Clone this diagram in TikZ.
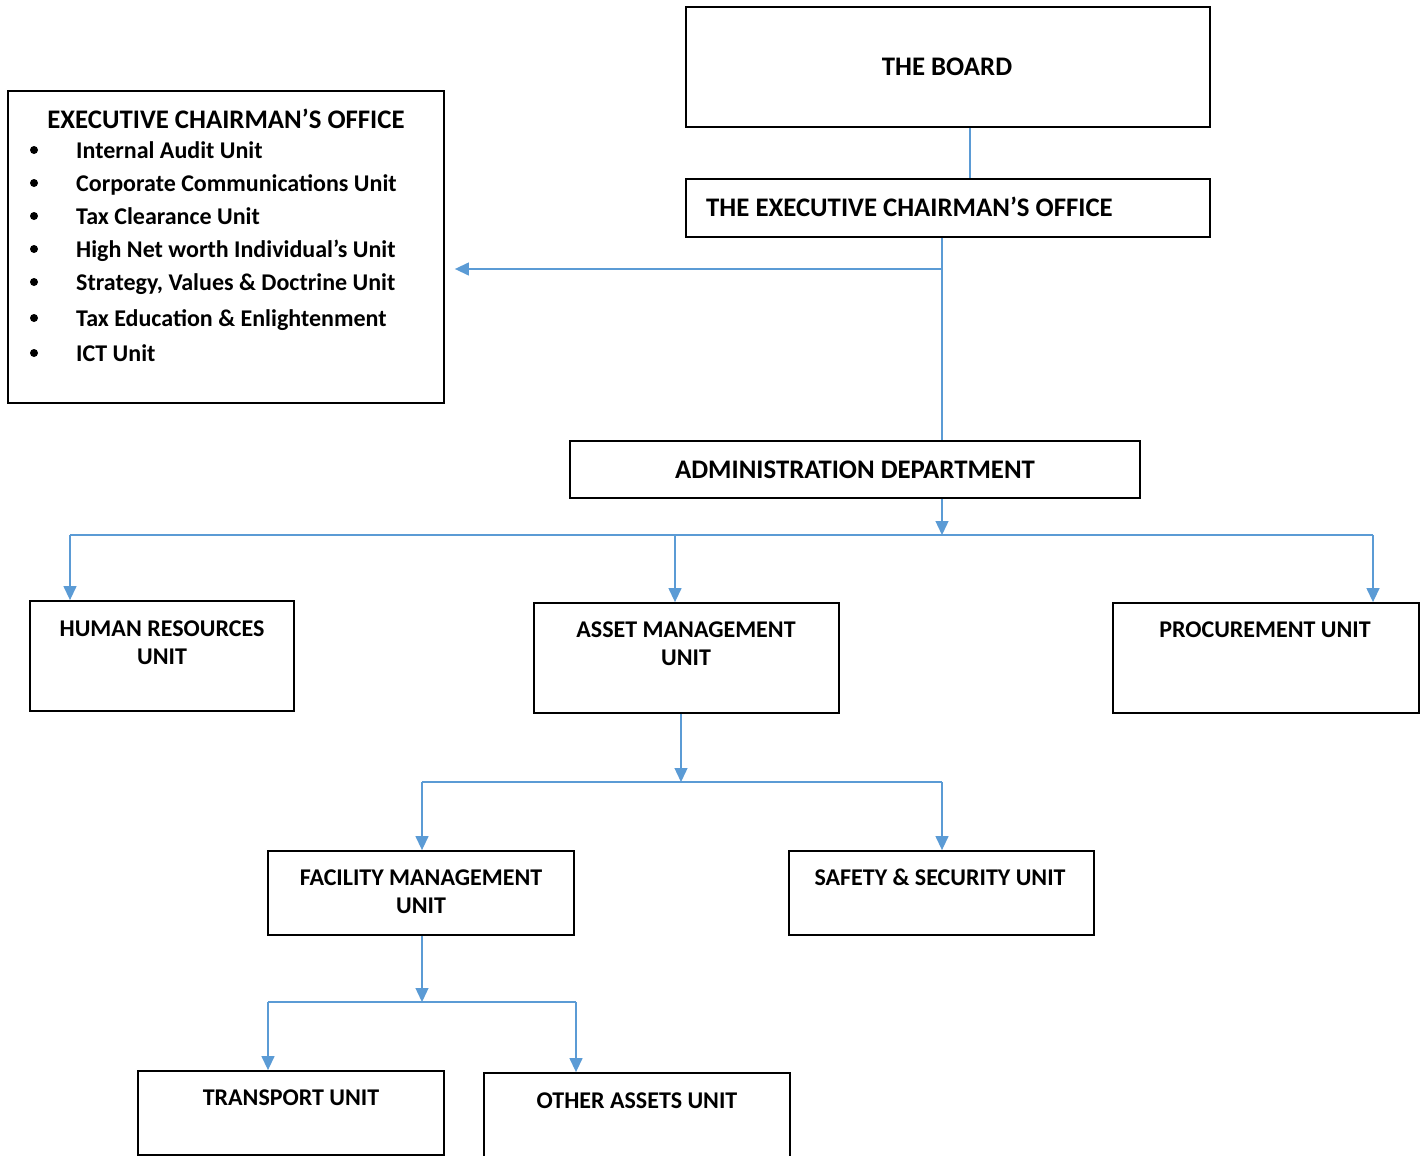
\documentclass[tikz,border=0pt]{standalone}
\usepackage{fontspec}
\setmainfont{Carlito}
\usetikzlibrary{arrows.meta,fit}
\definecolor{linkblue}{HTML}{5B9BD5}
\begin{document}
\begin{tikzpicture}[x=1pt,y=-1pt,
  box/.style={draw, line width=1.8pt, inner sep=0pt},
  hd/.style={font=\bfseries\fontsize{26.8}{28.5}\selectfont, align=center, inner sep=0pt, anchor=base},
  unit/.style={font=\bfseries\fontsize{24}{28.5}\selectfont, align=center, inner sep=0pt, anchor=base},
  item/.style={font=\bfseries\fontsize{24}{29}\selectfont, inner sep=0pt, anchor=base west},
  dot/.style={circle, fill=black, inner sep=0pt, minimum size=8pt},
  link/.style={draw=linkblue, line width=1.3pt},
  tip/.style={link, -{Triangle[width=13pt,length=14pt]}}]
\useasboundingbox (0,0) rectangle (1427,1156);

% boxes
\node[box, fit={(686,7)(1210,127)}] (board) {};
\node[box, fit={(686,179)(1210,237)}] (exec) {};
\node[box, fit={(8,91)(444,403)}] (office) {};
\node[box, fit={(570,441)(1140,498)}] (admin) {};
\node[box, fit={(30,601)(294,711)}] (hr) {};
\node[box, fit={(534,603)(839,713)}] (asset) {};
\node[box, fit={(1113,603)(1419,713)}] (proc) {};
\node[box, fit={(268,851)(574,935)}] (facility) {};
\node[box, fit={(789,851)(1094,935)}] (safety) {};
\node[box, fit={(138,1071)(444,1155)}] (transport) {};
\node[box, fit={(484,1073)(790,1170)}] (other) {};

% texts
\node[hd] (tboard) at (947,76) {THE BOARD};
\node[hd, anchor=base west] (texec) at (706,216) {THE EXECUTIVE CHAIRMAN’S OFFICE};
\node[hd] (toffice) at (226,128) {EXECUTIVE CHAIRMAN’S OFFICE};
\node[hd] (tadmin) at (855,478) {ADMINISTRATION DEPARTMENT};
\node[unit, anchor=north] (thr) at (162,620.3) {HUMAN RESOURCES\\UNIT};
\node[unit, anchor=north] (tasset) at (686,621.3) {ASSET MANAGEMENT\\UNIT};
\node[unit] (tproc) at (1265,637) {PROCUREMENT UNIT};
\node[unit, anchor=north] (tfacility) at (421,869.3) {FACILITY MANAGEMENT\\UNIT};
\node[unit] (tsafety) at (940,885) {SAFETY \& SECURITY UNIT};
\node[unit] (ttransport) at (291,1105) {TRANSPORT UNIT};
\node[unit] (tother) at (637,1108) {OTHER ASSETS UNIT};

% bulleted list of units
\foreach \y/\t [count=\i] in {158/Internal Audit Unit,
    191/Corporate Communications Unit,
    224/Tax Clearance Unit,
    257/High Net worth Individual’s Unit,
    290/{Strategy, Values \& Doctrine Unit},
    326/Tax Education \& Enlightenment,
    361/ICT Unit} {
  \node[dot] (b\i) at (34,\y-8) {};
  \node[item] (u\i) at (76,\y) {\t};
}

% junction points
\coordinate (spineA) at (970,150);
\coordinate (spineB) at (942,269);
\coordinate (bus1) at (942,535);
\coordinate (bus1l) at (70,535);
\coordinate (bus1m) at (675,535);
\coordinate (bus1r) at (1373,535);
\coordinate (asdrop) at (681,782);
\coordinate (bus2l) at (422,782);
\coordinate (bus2r) at (942,782);
\coordinate (fadrop) at (422,1002);
\coordinate (bus3l) at (268,1002);
\coordinate (bus3r) at (576,1002);

% connectors
\draw[link] (board.south -| spineA) -- (exec.north -| spineA);
\draw[link] (exec.south -| spineB) -- (admin.north -| spineB);
\draw[tip, shorten >=10pt] (spineB) -- (office.east |- spineB);

\draw[tip] (admin.south -| bus1) -- (bus1);
\draw[link] (bus1l) -- (bus1r);
\draw[tip] (bus1l) -- (hr.north -| bus1l);
\draw[tip] (bus1m) -- (asset.north -| bus1m);
\draw[tip] (bus1r) -- (proc.north -| bus1r);

\draw[tip] (asset.south -| asdrop) -- (asdrop);
\draw[link] (bus2l) -- (bus2r);
\draw[tip] (bus2l) -- (facility.north -| bus2l);
\draw[tip] (bus2r) -- (safety.north -| bus2r);

\draw[tip] (facility.south -| fadrop) -- (fadrop);
\draw[link] (bus3l) -- (bus3r);
\draw[tip] (bus3l) -- (transport.north -| bus3l);
\draw[tip] (bus3r) -- (other.north -| bus3r);
\end{tikzpicture}
\end{document}
